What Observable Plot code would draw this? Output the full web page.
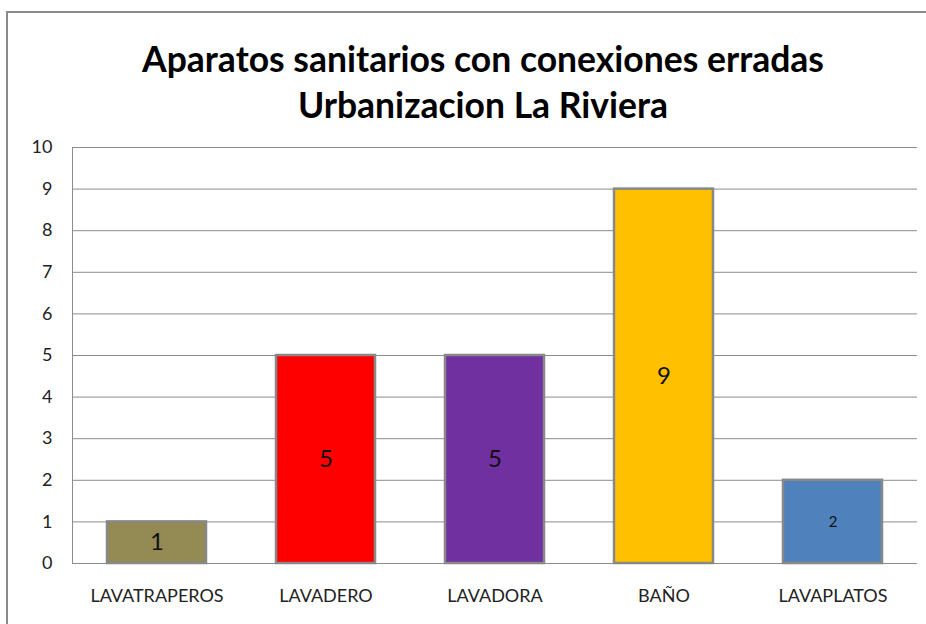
<!DOCTYPE html>
<html><head><meta charset="utf-8">
<script src="https://cdn.jsdelivr.net/npm/d3@7"></script>
<script src="https://cdn.jsdelivr.net/npm/@observablehq/plot@0.6"></script>
<style>
body{margin:0;background:#fff;}
#wrap{position:relative;width:926px;height:624px;overflow:hidden;background:#fff;font-family:Lato,"Open Sans",sans-serif;}
#border{position:absolute;left:6px;top:11px;width:1000px;height:700px;border:2px solid #8a8a8a;box-sizing:border-box;}
#title{position:absolute;left:0;top:36px;width:966px;text-align:center;font-weight:bold;font-size:35.5px;line-height:46px;color:#000;}
#chart{position:absolute;left:0;top:0;}
</style></head>
<body><div id="wrap"><div id="border"></div><div id="title">Aparatos sanitarios con conexiones erradas<br>Urbanizacion La Riviera</div><div id="chart"></div></div>
<script>
const categories = ["LAVATRAPEROS","LAVADERO","LAVADORA","BAÑO","LAVAPLATOS"];
const values = [1,5,5,9,2];
const colors = ["#948A54","#FF0000","#7030A0","#FFC000","#4F81BD"];
const labelSizes = [24,24,24,24,15];
const yTicks = [0,1,2,3,4,5,6,7,8,9,10];
const data = categories.map((c,i)=>({cat:c,value:values[i],color:colors[i],size:labelSizes[i]}));

const plot = Plot.plot({
  width: 926, height: 624,
  marginTop: 147, marginBottom: 61, marginLeft: 72, marginRight: 9,
  style: {fontFamily: "Lato, 'Open Sans', sans-serif", background: "transparent"},
  x: {domain: categories, paddingInner: 0.415, paddingOuter: 0.2075, label: null},
  y: {domain: [0,10], ticks: yTicks, label: null},
  marks: [
    Plot.gridY(yTicks, {stroke: "#8c8c8c", strokeOpacity: 1, strokeWidth: 1}),
    Plot.frame({anchor: "left", stroke: "#8c8c8c"}),
    Plot.barY(data, {x: "cat", y: "value", fill: "color", stroke: "#888888", strokeWidth: 2.5}),
    Plot.text(data.filter(d=>d.size>16), {x: "cat", y: d=>d.value/2, text: d=>String(d.value), fontSize: 24, fill: "#111"}),
    Plot.text(data.filter(d=>d.size<=16), {x: "cat", y: d=>d.value/2, text: d=>String(d.value), fontSize: 15, fill: "#111"}),
    Plot.axisY({ticks: yTicks, tickSize: 0, tickPadding: 20, fontSize: 18, fill: "#222", label: null}),
    Plot.axisX({tickSize: 0, tickPadding: 26, fontSize: 18, fill: "#222", label: null})
  ]
});
document.getElementById("chart").appendChild(plot);
</script></body></html>
